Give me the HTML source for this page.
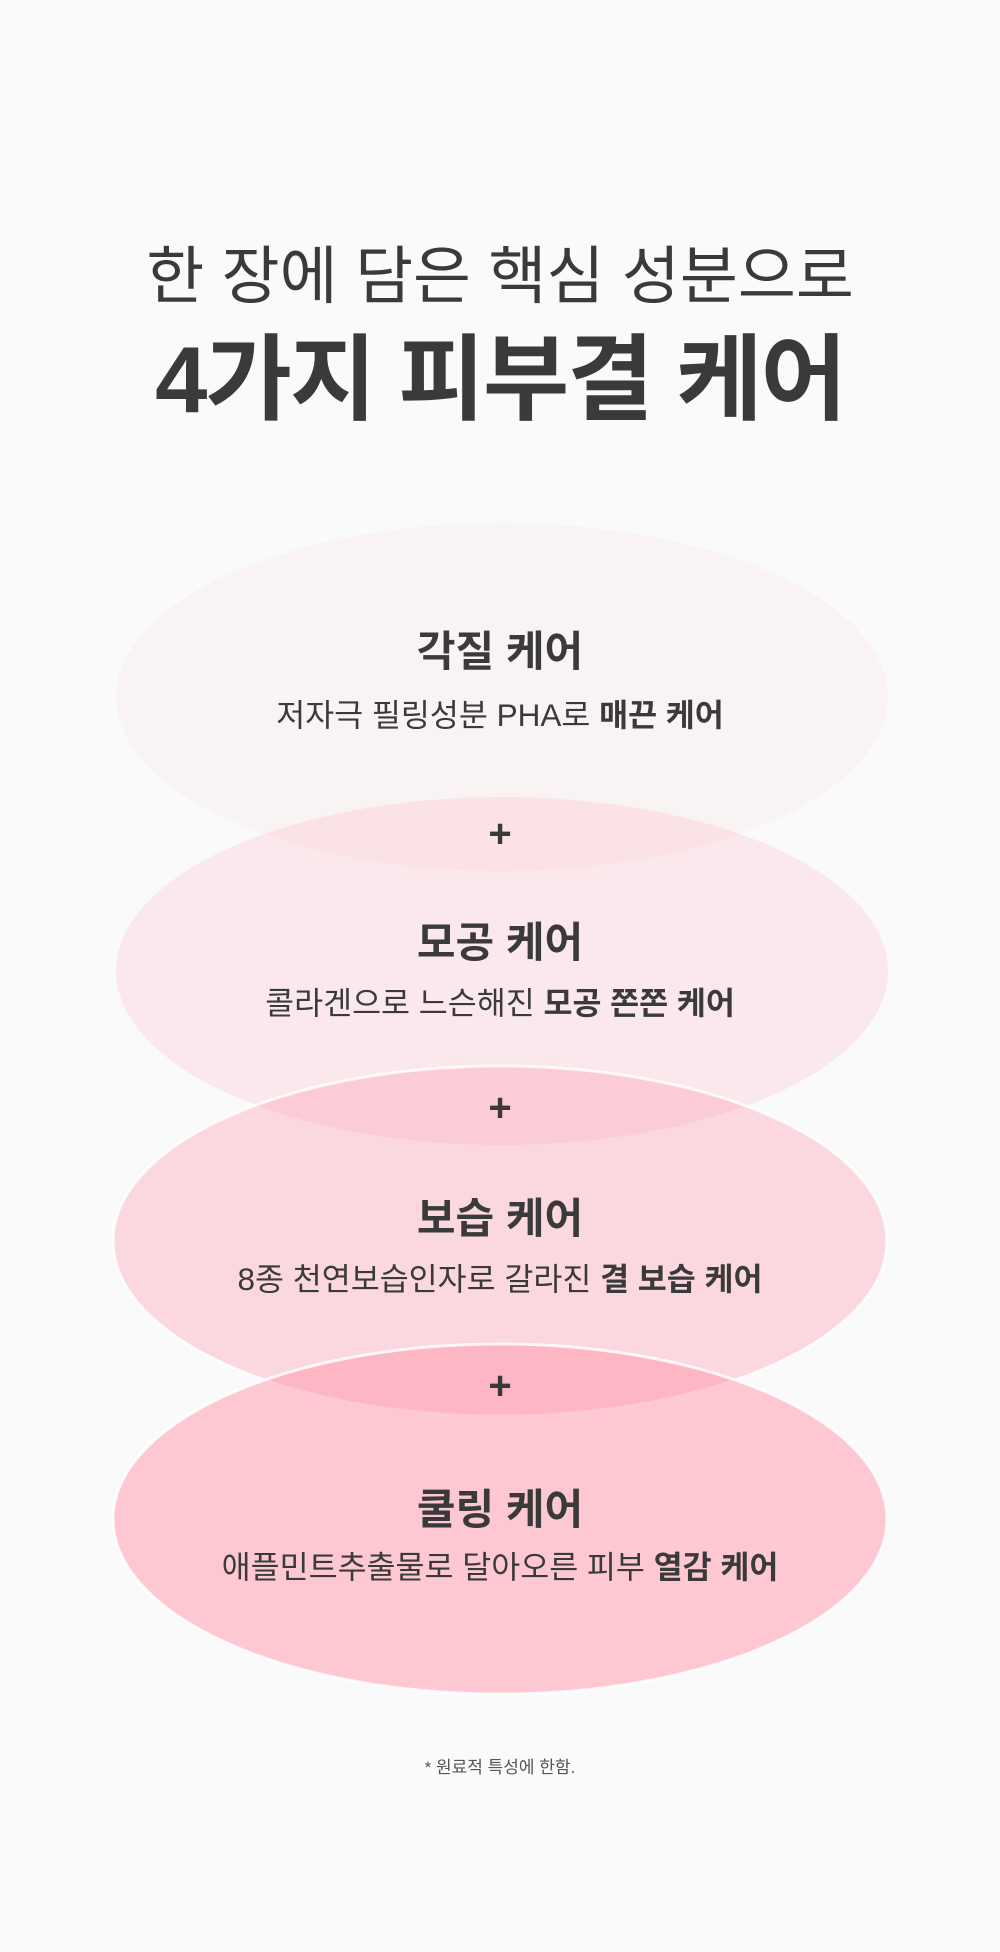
<!DOCTYPE html>
<html><head><meta charset="utf-8"><style>
html,body{margin:0;padding:0;background:#fafafa;}
body{width:1000px;height:1952px;position:relative;overflow:hidden;font-family:"Liberation Sans","Noto Sans CJK KR",sans-serif;color:#3a3a3a;}
.t{position:absolute;left:0;width:1000px;text-align:center;white-space:nowrap;}
svg{position:absolute;left:0;top:0;}
b{font-weight:700;}
</style></head><body>
<svg width="1000" height="1952">
<ellipse cx="502" cy="697" rx="386" ry="174" fill="rgb(255,160,175)" fill-opacity="0.08"/>
<ellipse cx="502" cy="971" rx="386" ry="174" fill="rgb(255,150,170)" fill-opacity="0.18"/>
<ellipse cx="500" cy="1241" rx="387" ry="175" fill="rgb(255,150,170)" fill-opacity="0.33" stroke="#fff" stroke-opacity="0.8" stroke-width="3"/>
<ellipse cx="500" cy="1519" rx="387" ry="175" fill="rgb(255,150,170)" fill-opacity="0.5" stroke="#fff" stroke-opacity="0.8" stroke-width="3"/>
</svg>
<div class="t" style="top:226px;font-size:63px;">한 장에 담은 핵심 성분으로</div>
<div class="t" style="top:304px;font-size:94px;font-weight:700;letter-spacing:-2px;">4가지 피부결 케어</div>

<div class="t" style="top:618px;font-size:42px;font-weight:700;">각질 케어</div>
<div class="t" style="top:690px;font-size:31.5px;">저자극 필링성분 PHA로 <b>매끈 케어</b></div>
<div class="t" style="top:812px;font-size:40px;font-weight:700;">+</div>

<div class="t" style="top:909px;font-size:42px;font-weight:700;">모공 케어</div>
<div class="t" style="top:978px;font-size:31.5px;">콜라겐으로 느슨해진 <b>모공 쫀쫀 케어</b></div>
<div class="t" style="top:1086px;font-size:40px;font-weight:700;">+</div>

<div class="t" style="top:1185px;font-size:42px;font-weight:700;">보습 케어</div>
<div class="t" style="top:1254px;font-size:31.5px;">8종 천연보습인자로 갈라진 <b>결 보습 케어</b></div>
<div class="t" style="top:1364px;font-size:40px;font-weight:700;">+</div>

<div class="t" style="top:1476px;font-size:42px;font-weight:700;">쿨링 케어</div>
<div class="t" style="top:1542px;font-size:31.5px;">애플민트추출물로 달아오른 피부 <b>열감 케어</b></div>

<div class="t" style="top:1753px;font-size:17px;color:#555;">* 원료적 특성에 한함.</div>
</body></html>
